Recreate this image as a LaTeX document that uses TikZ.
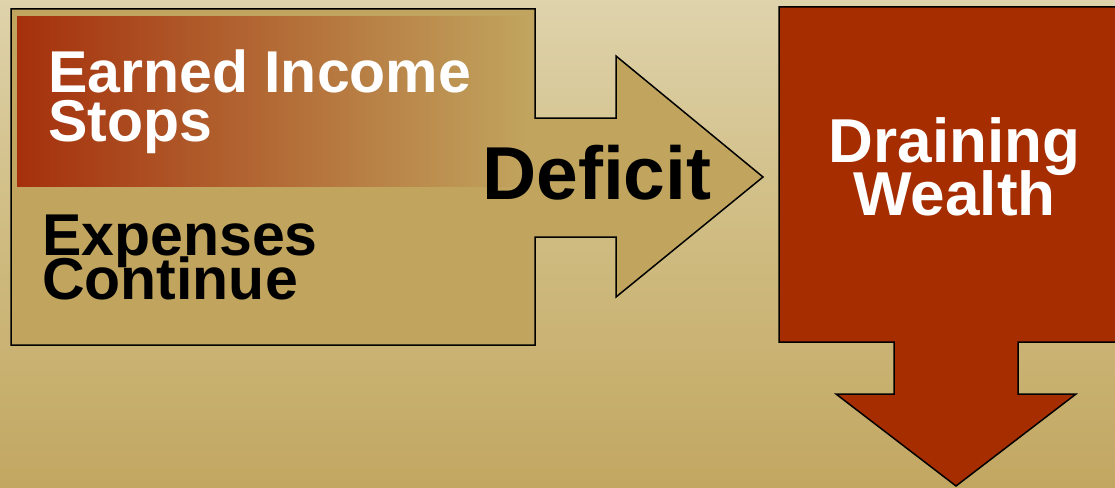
\documentclass[tikz,border=0pt]{standalone}
\usepackage{fontspec}
\setmainfont{Liberation Sans}
\definecolor{bgtop}{RGB}{223,211,172}
\definecolor{bgmid}{RGB}{207,187,128}
\definecolor{bgbot}{RGB}{194,167,98}
\definecolor{tanfill}{RGB}{193,165,95}
\definecolor{rust}{RGB}{165,45,0}
\definecolor{gradred}{RGB}{165,48,12}
\tikzset{
  outline/.style={draw=black, line width=1.5pt, line join=miter},
  whitetxt/.style={inner sep=0pt, text=white, font=\bfseries\fontsize{59}{59}\selectfont},
  blacktxt/.style={inner sep=0pt, text=black, font=\bfseries\fontsize{59}{59}\selectfont},
}
\begin{document}
\begin{tikzpicture}[x=1pt,y=-1pt]
\useasboundingbox (0,0) rectangle (1115,487);
\clip (0,0) rectangle (1115,487);
% background
\shade[top color=bgtop, bottom color=bgbot, middle color=bgmid] (0,0) rectangle (1115,487);
% left box + deficit arrow
\filldraw[outline, fill=tanfill] (11,9) -- (535,9) -- (535,118) -- (616,118) -- (616,56) -- (763,177) -- (616,297) -- (616,237) -- (535,237) -- (535,345) -- (11,345) -- cycle;
% gradient band
\shade[left color=gradred, right color=tanfill] (17,17) rectangle (530,186);
% red box with down arrow
\filldraw[outline, fill=rust] (779,7) -- (1125,7) -- (1125,342) -- (1018,342) -- (1018,394) -- (1076,394) -- (956,486) -- (836,394) -- (894,394) -- (894,342) -- (779,342) -- cycle;
% texts
\node[whitetxt, anchor=base west] (earned) at (48,92) {Earned Income};
\node[whitetxt, anchor=base west] (stops) at (48,141) {Stops};
\node[blacktxt, anchor=base west] (expenses) at (42,255) {Expenses};
\node[blacktxt, anchor=base west] (continue) at (42,299) {Continue};
\node[inner sep=0pt, text=black, font=\bfseries\fontsize{75}{75}\selectfont, anchor=base west] (deficit) at (482,199) {Deficit};
\node[inner sep=0pt, text=white, font=\bfseries\fontsize{62}{62}\selectfont, anchor=base] (draining) at (954.5,162) {Draining};
\node[inner sep=0pt, text=white, font=\bfseries\fontsize{62}{62}\selectfont, anchor=base] (wealth) at (954.5,215) {Wealth};
\end{tikzpicture}
\end{document}
